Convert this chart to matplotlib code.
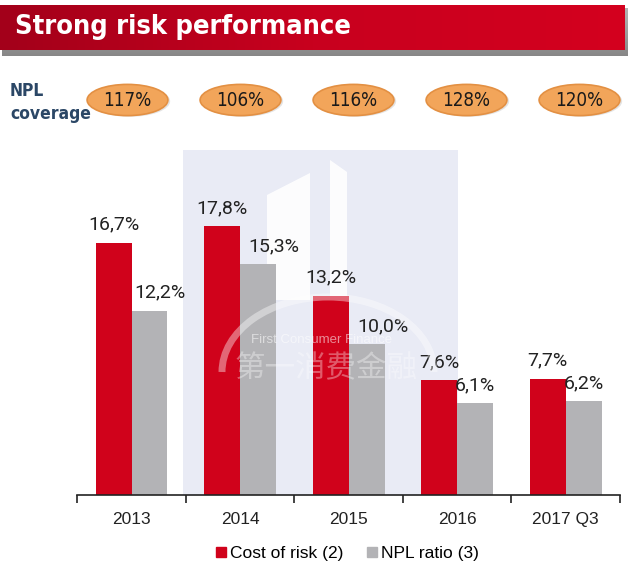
import matplotlib
matplotlib.use("Agg")
import matplotlib.pyplot as plt
import numpy as np
from matplotlib.patches import Ellipse, Rectangle, Arc, Polygon
from matplotlib.lines import Line2D
from matplotlib.colors import LinearSegmentedColormap

# ---------------- data ----------------
categories = ["2013", "2014", "2015", "2016", "2017 Q3"]
cost_of_risk = [16.7, 17.8, 13.2, 7.6, 7.7]
npl_ratio = [12.2, 15.3, 10.0, 6.1, 6.2]
npl_coverage = ["117%", "106%", "116%", "128%", "120%"]
series_names = ["Cost of risk (2)", "NPL ratio (3)"]
title = "Strong risk performance"

W, H = 640, 576
RED = "#D0021B"
GRAY = "#B3B3B6"
NARROW = dict(family=["DejaVu Sans"], fontstretch="condensed")

fig = plt.figure(figsize=(W / 100, H / 100), dpi=100)
fig.patch.set_facecolor("white")


def fx(px):
    return px / W


def fy(py):
    return 1 - py / H


def rect_axes(x0, y0, x1, y1, **kw):
    return fig.add_axes([fx(x0), fy(y1), fx(x1) - fx(x0), fy(y0) - fy(y1)], **kw)


# ---------------- header banner ----------------
sh = rect_axes(2, 8, 628, 56)
sh.axis("off")
grad_sh = np.linspace(0, 1, 50).reshape(-1, 1)
sh.imshow(grad_sh, aspect="auto", cmap="Greys", vmin=-2.5, vmax=1.2, extent=[0, 1, 0, 1], alpha=0.5)
sh.set_xlim(0, 1); sh.set_ylim(0, 1)

ban = rect_axes(0, 5, 625, 50)
ban.axis("off")
cmap = LinearSegmentedColormap.from_list("ban", ["#A3001A", "#C8001E", "#D4001F"])
grad = np.linspace(0, 1, 256).reshape(1, -1)
ban.imshow(grad, aspect="auto", cmap=cmap, extent=[0, 1, 0, 1])
ban.set_xlim(0, 1); ban.set_ylim(0, 1)
ban.text(15 / 625, 0.5, title, color="white", fontsize=19.5, fontweight="bold",
         va="center", ha="left", **NARROW)

# ---------------- NPL coverage row ----------------
fig.text(fx(10), fy(91), "NPL", color="#2B4766", fontsize=12.5, fontweight="bold",
         va="center", ha="left", **NARROW)
fig.text(fx(10), fy(114), "coverage", color="#2B4766", fontsize=12.5, fontweight="bold",
         va="center", ha="left", **NARROW)

cov = rect_axes(71, 80, 636, 120)
cov.axis("off")
cov.set_xlim(-0.5, 4.5)
cov.set_ylim(0, 1)
for i, lab in enumerate(npl_coverage):
    cov.add_patch(Ellipse((i + 0.02, 0.47), width=0.715, height=0.78, facecolor="#C9C9C9",
                          edgecolor="none", alpha=0.5))
    cov.add_patch(Ellipse((i, 0.5), width=0.715, height=0.78, facecolor="#F2A55A",
                          edgecolor="#E39043", linewidth=1.2))
    cov.text(i, 0.5, lab, ha="center", va="center", fontsize=13.5, color="#1A1A1A", **NARROW)

# ---------------- watermark background panel ----------------
wm = rect_axes(183, 150, 458, 495)
wm.set_xlim(183, 458); wm.set_ylim(495, 150)
wm.axis("off")
wm.add_patch(Rectangle((183, 150), 275, 345, facecolor="#E9EBF5", edgecolor="none"))
wm.add_patch(Polygon([(267, 195), (310, 173), (310, 300), (267, 300)], closed=True,
                     facecolor="white", edgecolor="none", alpha=0.9))
wm.add_patch(Polygon([(330, 160), (347, 172), (347, 297), (330, 297)], closed=True,
                     facecolor="white", edgecolor="none", alpha=0.9))

# ---------------- main bar chart ----------------
ax = rect_axes(77.4, 148, 620, 495)
ax.set_facecolor("none")
x = np.arange(len(categories))
w = 0.33
ymax = 347 / 15.1
ax.set_xlim(-0.5, len(categories) - 0.5)
ax.set_ylim(0, ymax)

ax.bar(x - w / 2, cost_of_risk, w, color=RED, zorder=2)
ax.bar(x + w / 2, npl_ratio, w, color=GRAY, zorder=2)

red_dx = [0, 0, 0, 0, 0]
gray_dx = [10, 16, 16, 0, 0]
for i in range(len(categories)):
    ax.annotate(f"{cost_of_risk[i]:.1f}%".replace(".", ","), (x[i] - w / 2, cost_of_risk[i]),
                xytext=(red_dx[i], 9), textcoords="offset pixels", ha="center", va="bottom",
                fontsize=14, family=["Roboto", "DejaVu Sans"], color="#222222", zorder=3)
    ax.annotate(f"{npl_ratio[i]:.1f}%".replace(".", ","), (x[i] + w / 2, npl_ratio[i]),
                xytext=(gray_dx[i], 9), textcoords="offset pixels", ha="center", va="bottom",
                fontsize=14, family=["Roboto", "DejaVu Sans"], color="#222222", zorder=3)

for s in ["top", "right", "left"]:
    ax.spines[s].set_visible(False)
ax.spines["bottom"].set_linewidth(1.2)
ax.spines["bottom"].set_color("#222222")
ax.set_yticks([])
ax.set_xticks(x)
ax.set_xticklabels(categories, fontsize=12.5, family=["Liberation Sans", "DejaVu Sans"], color="#222222")
ax.tick_params(axis="x", which="major", length=0, pad=12)
ax.set_xticks(np.arange(-0.5, len(categories)), minor=True)
ax.tick_params(axis="x", which="minor", length=6, width=1.2, color="#222222", direction="out")

# ---------------- watermark overlays (faint, over bars) ----------------
ov = rect_axes(183, 150, 458, 495)
ov.set_xlim(183, 458); ov.set_ylim(495, 150)
ov.axis("off")
ov.add_patch(Arc((328, 372), 212, 150, theta1=180, theta2=360, color="white", lw=5, alpha=0.4))
ov.text(322, 340, "First Consumer Finance", ha="center", va="center", fontsize=9.5,
        color="white", alpha=0.55, family=["Liberation Sans", "DejaVu Sans"])
ov.text(326, 369, "第一消费金融", ha="center", va="center", fontsize=22,
        color="white", alpha=0.35, family=["Noto Sans CJK SC", "DejaVu Sans"])

handles = [Line2D([], [], marker="s", linestyle="none", markersize=7, color=RED),
           Line2D([], [], marker="s", linestyle="none", markersize=7, color=GRAY)]
fig.legend(handles, series_names, loc="center", bbox_to_anchor=(fx(346), fy(553)), ncol=2,
           frameon=False, prop={"family": ["Liberation Sans", "DejaVu Sans"], "size": 12.5},
           handletextpad=0.05, columnspacing=1.2, handlelength=0.9)

fig.savefig("out.png", dpi=100)
